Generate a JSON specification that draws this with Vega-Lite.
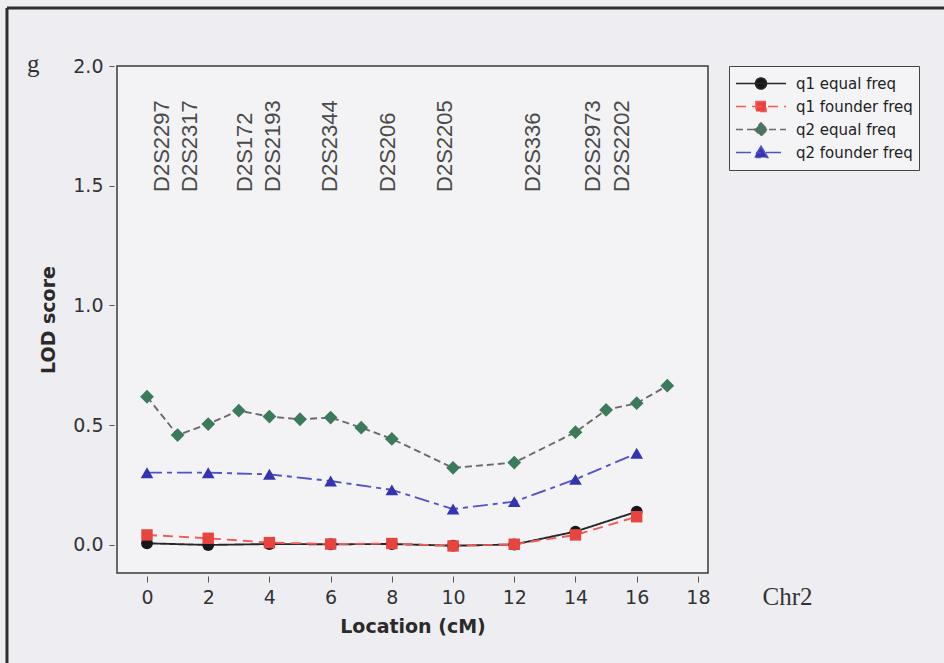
{
  "$schema": "https://vega.github.io/schema/vega-lite/v6.json",
  "width": 591,
  "height": 507,
  "autosize": {"type": "none"},
  "padding": {"left": 117, "top": 66, "right": 236, "bottom": 90},
  "background": "#eeeef2",
  "config": {
    "view": {"fill": "#f3f3f6", "stroke": "#3a3a3a", "strokeWidth": 1.5},
    "axis": {
      "labelFont": "DejaVu Sans",
      "labelFontSize": 19,
      "labelColor": "#333333",
      "titleFont": "DejaVu Sans",
      "titleFontSize": 19,
      "titleFontWeight": "bold",
      "titleColor": "#2a2a2a",
      "tickColor": "#555555",
      "tickSize": 5,
      "domain": false,
      "grid": false,
      "offset": 3
    },
    "legend": {
      "orient": "right",
      "offset": 21,
      "padding": 6,
      "strokeColor": "#444444",
      "fillColor": "#f4f4f6",
      "symbolSize": 2500,
      "symbolStrokeWidth": 1.6,
      "symbolOpacity": 1,
      "clipHeight": 23,
      "rowPadding": 0,
      "labelOffset": 9,
      "labelFont": "DejaVu Sans",
      "labelFontSize": 15,
      "labelColor": "#222222"
    }
  },
  "data": {
    "values": [
      {"series": "q1 equal freq", "cM": 0, "lod": 0.007},
      {"series": "q1 equal freq", "cM": 2, "lod": 0.0},
      {"series": "q1 equal freq", "cM": 4, "lod": 0.004},
      {"series": "q1 equal freq", "cM": 6, "lod": 0.003},
      {"series": "q1 equal freq", "cM": 8, "lod": 0.004},
      {"series": "q1 equal freq", "cM": 10, "lod": -0.003},
      {"series": "q1 equal freq", "cM": 12, "lod": 0.002},
      {"series": "q1 equal freq", "cM": 14, "lod": 0.056},
      {"series": "q1 equal freq", "cM": 16, "lod": 0.139},
      {"series": "q1 founder freq", "cM": 0, "lod": 0.042},
      {"series": "q1 founder freq", "cM": 2, "lod": 0.028},
      {"series": "q1 founder freq", "cM": 4, "lod": 0.01},
      {"series": "q1 founder freq", "cM": 6, "lod": 0.004},
      {"series": "q1 founder freq", "cM": 8, "lod": 0.006},
      {"series": "q1 founder freq", "cM": 10, "lod": -0.004},
      {"series": "q1 founder freq", "cM": 12, "lod": 0.003},
      {"series": "q1 founder freq", "cM": 14, "lod": 0.042},
      {"series": "q1 founder freq", "cM": 16, "lod": 0.118},
      {"series": "q2 equal freq", "cM": 0, "lod": 0.619},
      {"series": "q2 equal freq", "cM": 1, "lod": 0.459},
      {"series": "q2 equal freq", "cM": 2, "lod": 0.505},
      {"series": "q2 equal freq", "cM": 3, "lod": 0.561},
      {"series": "q2 equal freq", "cM": 4, "lod": 0.536},
      {"series": "q2 equal freq", "cM": 5, "lod": 0.525},
      {"series": "q2 equal freq", "cM": 6, "lod": 0.532},
      {"series": "q2 equal freq", "cM": 7, "lod": 0.49},
      {"series": "q2 equal freq", "cM": 8, "lod": 0.443},
      {"series": "q2 equal freq", "cM": 10, "lod": 0.322},
      {"series": "q2 equal freq", "cM": 12, "lod": 0.344},
      {"series": "q2 equal freq", "cM": 14, "lod": 0.471},
      {"series": "q2 equal freq", "cM": 15, "lod": 0.564},
      {"series": "q2 equal freq", "cM": 16, "lod": 0.592},
      {"series": "q2 equal freq", "cM": 17, "lod": 0.665},
      {"series": "q2 founder freq", "cM": 0, "lod": 0.302},
      {"series": "q2 founder freq", "cM": 2, "lod": 0.302},
      {"series": "q2 founder freq", "cM": 4, "lod": 0.295},
      {"series": "q2 founder freq", "cM": 6, "lod": 0.267},
      {"series": "q2 founder freq", "cM": 8, "lod": 0.23},
      {"series": "q2 founder freq", "cM": 10, "lod": 0.15},
      {"series": "q2 founder freq", "cM": 12, "lod": 0.181},
      {"series": "q2 founder freq", "cM": 14, "lod": 0.274},
      {"series": "q2 founder freq", "cM": 16, "lod": 0.383}
    ]
  },
  "layer": [
    {
      "mark": {"type": "line", "strokeWidth": 1.9},
      "encoding": {
        "x": {
          "field": "cM", "type": "quantitative",
          "scale": {"domain": [-0.98, 18.33], "nice": false, "zero": false},
          "axis": {"values": [0, 2, 4, 6, 8, 10, 12, 14, 16, 18], "title": "Location (cM)", "labelPadding": 6, "titlePadding": 10, "tickSize": 6}
        },
        "y": {
          "field": "lod", "type": "quantitative",
          "scale": {"domain": [-0.117, 2.0], "nice": false, "zero": false},
          "axis": {"values": [0, 0.5, 1, 1.5, 2], "format": ".1f", "title": "LOD score", "labelPadding": 6, "titlePadding": 14}
        },
        "stroke": {
          "field": "series", "type": "nominal",
          "scale": {
            "domain": ["q1 equal freq", "q1 founder freq", "q2 equal freq", "q2 founder freq"],
            "range": ["#262626", "#f05a5a", "#6a6a6a", "#5252c8"]
          },
          "legend": {"title": null}
        },
        "strokeDash": {
          "field": "series", "type": "nominal",
          "scale": {
            "domain": ["q1 equal freq", "q1 founder freq", "q2 equal freq", "q2 founder freq"],
            "range": [[1, 0], [10, 6], [7, 4], [15, 5, 5, 5]]
          },
          "legend": {"title": null}
        }
      }
    },
    {
      "transform": [{"filter": "datum.series === 'q1 equal freq'"}],
      "mark": {"type": "point", "shape": "circle", "filled": true, "opacity": 1, "size": 140, "color": "#181818"},
      "encoding": {
        "x": {"field": "cM", "type": "quantitative"},
        "y": {"field": "lod", "type": "quantitative"}
      }
    },
    {
      "transform": [{"filter": "datum.series === 'q1 founder freq'"}],
      "mark": {"type": "point", "shape": "square", "filled": true, "opacity": 1, "size": 130, "color": "#e8443f"},
      "encoding": {
        "x": {"field": "cM", "type": "quantitative"},
        "y": {"field": "lod", "type": "quantitative"}
      }
    },
    {
      "transform": [{"filter": "datum.series === 'q2 equal freq'"}],
      "mark": {"type": "point", "shape": "diamond", "filled": true, "opacity": 1, "size": 190, "color": "#3d7a5c"},
      "encoding": {
        "x": {"field": "cM", "type": "quantitative"},
        "y": {"field": "lod", "type": "quantitative"}
      }
    },
    {
      "transform": [{"filter": "datum.series === 'q2 founder freq'"}],
      "mark": {"type": "point", "shape": "triangle-up", "filled": true, "opacity": 1, "size": 160, "color": "#3434b0"},
      "encoding": {
        "x": {"field": "cM", "type": "quantitative"},
        "y": {"field": "lod", "type": "quantitative"}
      }
    },
    {
      "mark": {"type": "point", "filled": true, "opacity": 0},
      "encoding": {
        "x": {"field": "cM", "type": "quantitative"},
        "y": {"field": "lod", "type": "quantitative"},
        "shape": {
          "field": "series", "type": "nominal",
          "scale": {
            "domain": ["q1 equal freq", "q1 founder freq", "q2 equal freq", "q2 founder freq"],
            "range": [
              "M-1,0H1M-0.22,0A0.22,0.22,0,1,1,0.22,0A0.22,0.22,0,1,1,-0.22,0Z",
              "M-1,0H1M-0.2,-0.2H0.2V0.2H-0.2Z",
              "M-1,0H1M0,-0.26L0.26,0L0,0.26L-0.26,0Z",
              "M-1,0H1M0,-0.25L0.27,0.2L-0.27,0.2Z"
            ]
          },
          "legend": {
            "title": null,
            "encode": {
              "symbols": {
                "update": {
                  "fill": {"scale": "fill", "field": "value"},
                  "stroke": {"scale": "stroke", "field": "value"},
                  "strokeDash": {"scale": "strokeDash", "field": "value"},
                  "strokeWidth": {"value": 1.6},
                  "opacity": {"value": 1}
                }
              }
            }
          }
        },
        "fill": {
          "field": "series", "type": "nominal",
          "scale": {
            "domain": ["q1 equal freq", "q1 founder freq", "q2 equal freq", "q2 founder freq"],
            "range": ["#181818", "#e8443f", "#3d7a5c", "#3434b0"]
          },
          "legend": {"title": null}
        }
      }
    },
    {
      "data": {
        "values": [
          {"marker": "D2S2297", "pos": 0.48},
          {"marker": "D2S2317", "pos": 1.4},
          {"marker": "D2S172", "pos": 3.2},
          {"marker": "D2S2193", "pos": 4.12},
          {"marker": "D2S2344", "pos": 5.98},
          {"marker": "D2S206", "pos": 7.87},
          {"marker": "D2S2205", "pos": 9.74},
          {"marker": "D2S336", "pos": 12.61},
          {"marker": "D2S2973", "pos": 14.57},
          {"marker": "D2S2202", "pos": 15.52}
        ]
      },
      "mark": {"type": "text", "angle": 270, "align": "left", "baseline": "middle", "font": "Liberation Sans", "fontSize": 22, "color": "#4a4a4a"},
      "encoding": {
        "x": {"field": "pos", "type": "quantitative"},
        "y": {"datum": 1.474, "type": "quantitative"},
        "text": {"field": "marker"}
      }
    },
    {
      "data": {"values": [{"label": "g"}]},
      "mark": {"type": "text", "align": "center", "baseline": "alphabetic", "font": "Liberation Serif", "fontSize": 25, "color": "#333333"},
      "encoding": {
        "x": {"datum": -3.72, "type": "quantitative"},
        "y": {"datum": 1.975, "type": "quantitative"},
        "text": {"field": "label"}
      }
    },
    {
      "data": {"values": [{"label": "Chr2"}]},
      "mark": {"type": "text", "align": "center", "baseline": "alphabetic", "font": "Liberation Serif", "fontSize": 25, "color": "#333333"},
      "encoding": {
        "x": {"datum": 20.93, "type": "quantitative"},
        "y": {"datum": -0.25, "type": "quantitative"},
        "text": {"field": "label"}
      }
    },
    {
      "data": {"values": [{"edge": "left"}]},
      "mark": {"type": "rule", "color": "#2e2e2e", "strokeWidth": 3},
      "encoding": {
        "x": {"datum": -4.575, "type": "quantitative"},
        "y": {"datum": 2.242, "type": "quantitative"},
        "y2": {"datum": -0.6}
      }
    },
    {
      "data": {"values": [{"edge": "top"}]},
      "mark": {"type": "rule", "color": "#2e2e2e", "strokeWidth": 3},
      "encoding": {
        "x": {"datum": -4.575, "type": "quantitative"},
        "x2": {"datum": 26.2},
        "y": {"datum": 2.242, "type": "quantitative"}
      }
    }
  ]
}
